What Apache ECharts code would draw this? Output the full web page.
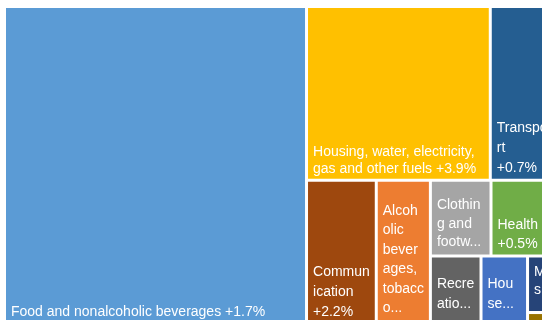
<!DOCTYPE html>
<html><head><meta charset="utf-8">
<script src="https://cdn.jsdelivr.net/npm/echarts@6/dist/echarts.min.js"></script>
<style>html,body{margin:0;padding:0;background:#fff}#c{width:542px;height:320px}</style>
</head><body><div id="c"></div>
<script>
// Data
const categories = [
  'Food and nonalcoholic beverages',
  'Housing, water, electricity, gas and other fuels',
  'Transport',
  'Communication',
  'Alcoholic beverages, tobacco and narcotics',
  'Clothing and footwear',
  'Health',
  'Recreation and culture',
  'Household furnishings and equipment',
  'Miscellaneous goods and services',
  'Education'
];
const weights = [55.57, 18.53, 5.82, 5.80, 4.50, 2.67, 2.51, 1.98, 1.82, 0.67, 0.13];
const changes = ['+1.7%', '+3.9%', '+0.7%', '+2.2%', null, null, '+0.5%', null, null, null, null];
// Text as displayed (wrapped / truncated as in the picture)
const shownLabels = [
  'Food and nonalcoholic beverages +1.7%',
  'Housing, water, electricity,\ngas and other fuels +3.9%',
  'Transpo\nrt\n+0.7%',
  'Commun\nication\n+2.2%',
  'Alcoh\nolic\nbever\nages,\ntobacc\no...',
  'Clothin\ng and\nfootw...',
  'Health\n+0.5%',
  'Recre\natio...',
  'Hou\nse...',
  'M\ns...',
  ''
];
// grouping of category indices (tile hierarchy)
const grouping = [0, [[1, 2], [3, [4, [[5, 6], [[7, 8], [9, 10]]]]]]];

// Styles
const palette = ['#5B9BD5', '#FFC000', '#255E91', '#9E480E', '#ED7D31', '#A5A5A5', '#70AD47', '#636363', '#4472C4', '#264478', '#997300'];
const lineHeights = [15, 17, 20, 20, 19.5, 18.5, 19, 20, 20, 18, 20];
const padBottom = [2, 1, 1, 0, 4, 3, 1, 8, 8, 12, 0];

function build(node) {
  if (typeof node === 'number') {
    return {
      name: categories[node],
      value: weights[node],
      change: changes[node],
      shown: shownLabels[node],
      itemStyle: { color: palette[node], borderWidth: 1.5, borderColor: '#fff', gapWidth: 0 },
      label: {
        show: shownLabels[node] !== '',
        lineHeight: lineHeights[node],
        padding: [0, 0, padBottom[node], 5]
      }
    };
  }
  return {
    name: '',
    children: node.map(build),
    itemStyle: { borderWidth: 0, gapWidth: 0, borderColor: '#fff', color: '#fff' },
    label: { show: false },
    upperLabel: { show: false }
  };
}
const data = grouping.map(build);

const chart = echarts.init(document.getElementById('c'), null, { renderer: 'canvas' });
chart.setOption({
  animation: false,
  backgroundColor: '#fff',
  series: [{
    type: 'treemap',
    left: 4.5, top: 6.5, width: 543.5, height: 317,
    roam: false,
    nodeClick: false,
    sort: false,
    squareRatio: 1,
    visibleMin: 0,
    breadcrumb: { show: false },
    itemStyle: { borderWidth: 0, gapWidth: 0, borderColor: '#fff' },
    upperLabel: { show: false },
    label: {
      show: true,
      position: 'insideBottomLeft',
      distance: 0,
      padding: [0, 0, 2, 5],
      color: '#fff',
      fontSize: 14,
      fontFamily: 'Liberation Sans, Arial, sans-serif',
      lineHeight: 20,
      overflow: 'none',
      lineOverflow: 'none',
      formatter: function (p) { return (p.data && p.data.shown) || ''; }
    },
    emphasis: { disabled: true },
    data: data
  }]
});
</script>
</body></html>
